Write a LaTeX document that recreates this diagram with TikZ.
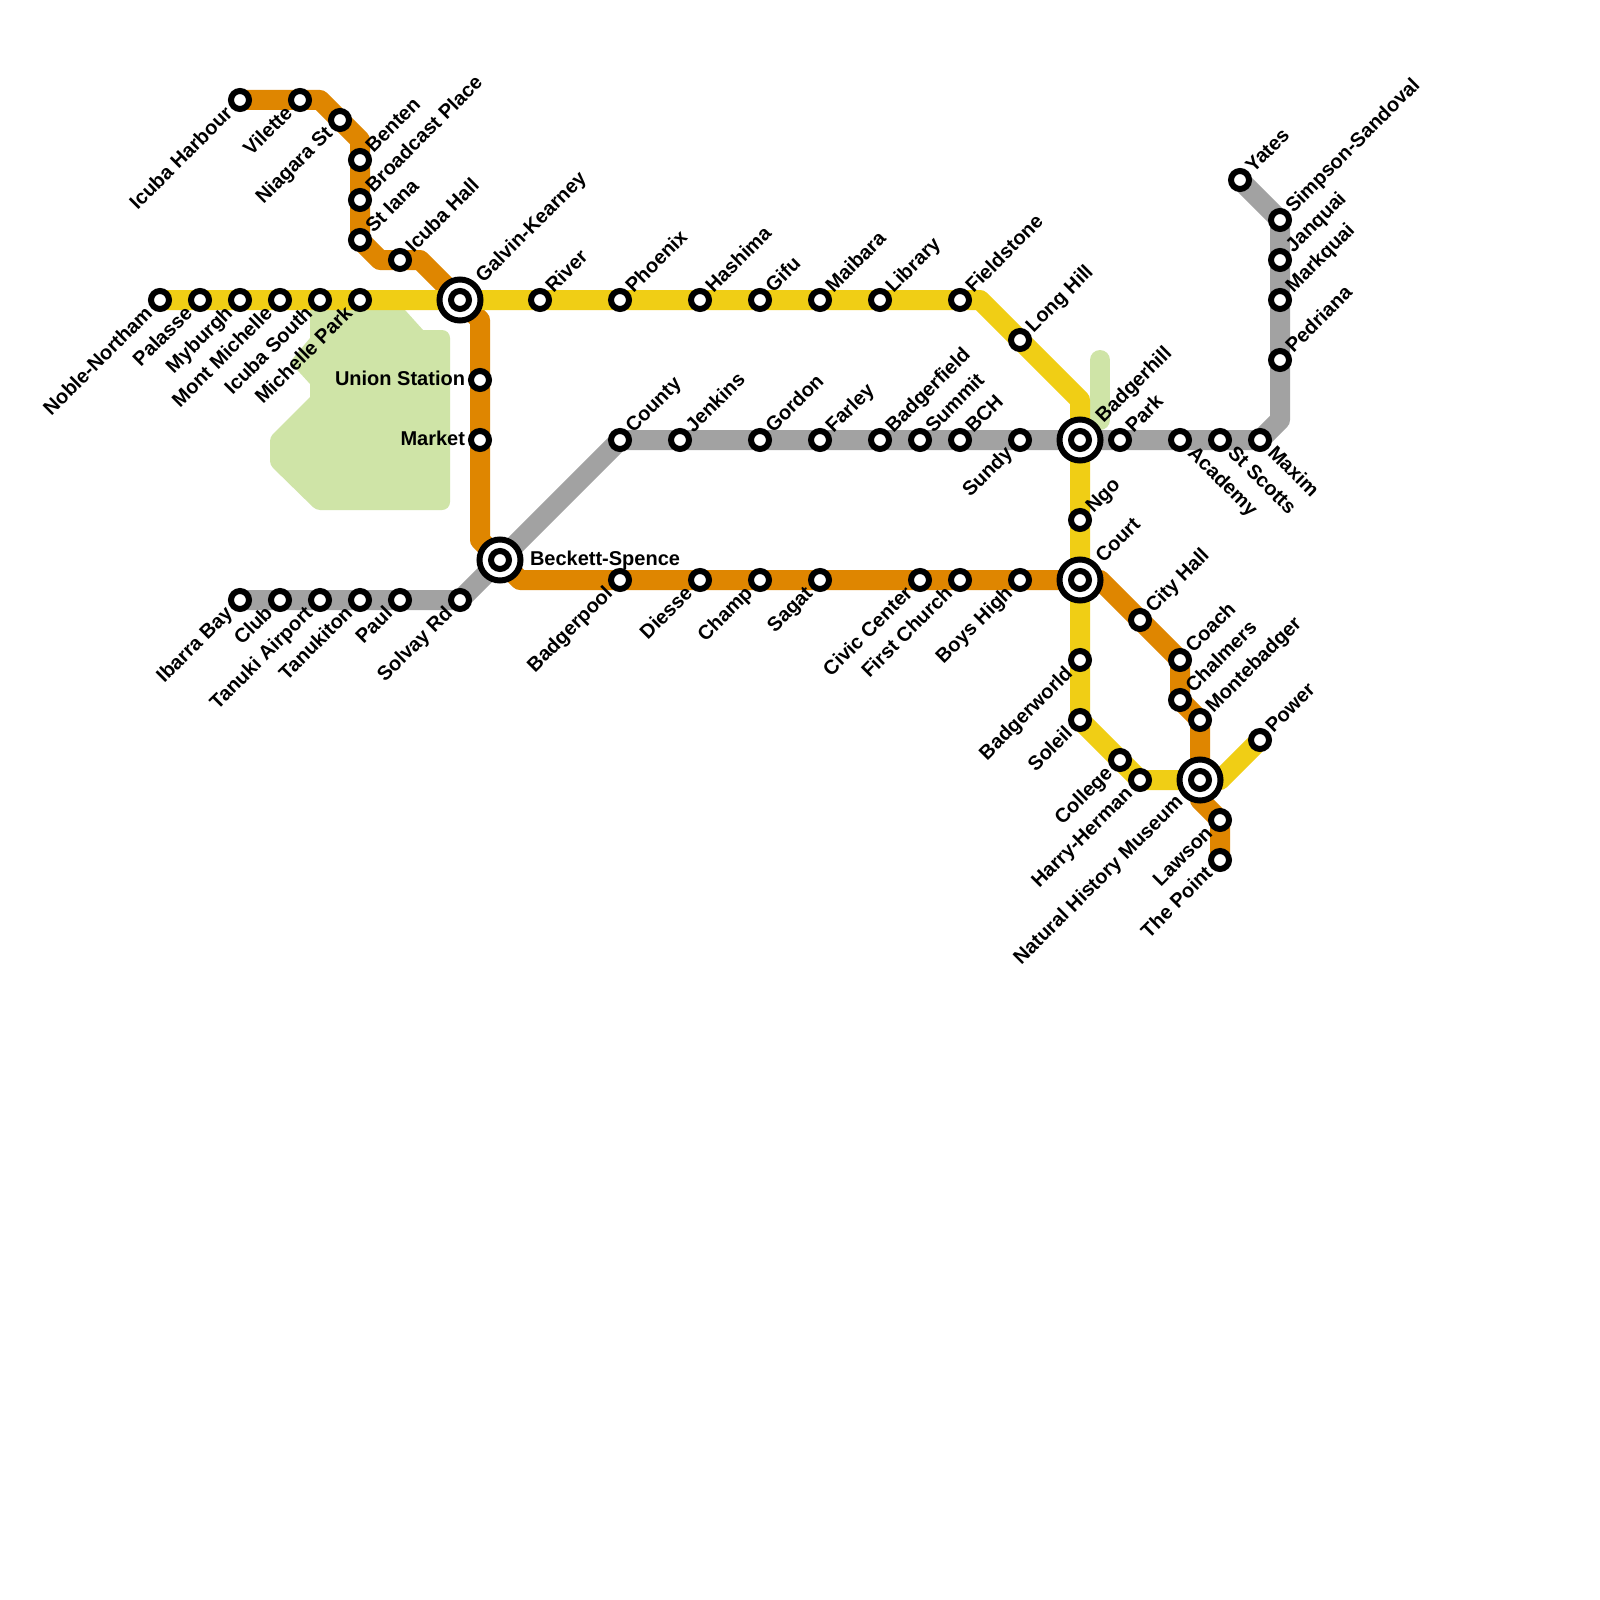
\documentclass[tikz,border=0pt]{standalone}
\usepackage{fontspec}
\setmainfont{Liberation Sans}
\definecolor{lineY}{HTML}{F0CE15}
\definecolor{lineO}{HTML}{DF8600}
\definecolor{lineG}{HTML}{A2A2A2}
\definecolor{parkG}{HTML}{CFE4A7}
\tikzset{
  railway/.style={line width=20pt,line join=round,line cap=round},
  stn/.style={circle,draw=black,fill=white,line width=6pt,minimum size=18pt,inner sep=0pt,outer sep=0pt},
  hubring/.style={circle,draw=black,fill=white,line width=6pt,minimum size=41pt,inner sep=0pt,outer sep=0pt},
  lbl/.style={inner sep=0pt,outer sep=0pt,text=black,text height=14.3pt,text depth=4.2pt,font=\fontsize{20}{21}\selectfont\bfseries},
}
% station node + label in one of four placements
\newcommand\stUR[2]{\node[stn] (#1-s) at (#1) {}; \node[lbl,anchor=west,rotate=45] (#1-l) at ([shift={(10,-10)}]#1) {#2};}
\newcommand\stDL[2]{\node[stn] (#1-s) at (#1) {}; \node[lbl,anchor=east,rotate=45] (#1-l) at ([shift={(-10,11)}]#1) {#2};}
\newcommand\stDR[2]{\node[stn] (#1-s) at (#1) {}; \node[lbl,anchor=west,rotate=-45] (#1-l) at ([shift={(10.5,10.5)}]#1) {#2};}
\newcommand\stL[2]{\node[stn] (#1-s) at (#1) {}; \node[lbl,anchor=east] (#1-l) at ([shift={(-15,0)}]#1) {#2};}
\newcommand\hubUR[2]{\node[hubring] (#1-h) at (#1) {}; \node[stn] (#1-s) at (#1) {}; \node[lbl,anchor=west,rotate=45] (#1-l) at ([shift={(20,-20)}]#1) {#2};}
\newcommand\hubDL[2]{\node[hubring] (#1-h) at (#1) {}; \node[stn] (#1-s) at (#1) {}; \node[lbl,anchor=east,rotate=45] (#1-l) at ([shift={(-19.5,19.5)}]#1) {#2};}
\newcommand\hubR[2]{\node[hubring] (#1-h) at (#1) {}; \node[stn] (#1-s) at (#1) {}; \node[lbl,anchor=west] (#1-l) at ([shift={(30,0)}]#1) {#2};}
\begin{document}
\begin{tikzpicture}[x=1pt,y=-1pt]
\useasboundingbox (0,0) rectangle (1600,1600);
\fill[white] (0,0) rectangle (1600,1600);
% positions
\foreach \n/\x/\y in {
 noble/160/300,palasse/200/300,myburgh/240/300,montm/280/300,icubas/320/300,michp/360/300,
 galvin/460/300,river/540/300,phoenix/620/300,hashima/700/300,gifu/760/300,maibara/820/300,
 library/880/300,fieldstone/960/300,longhill/1020/340,ngo/1080/520,court/1080/580,
 badgerworld/1080/660,soleil/1080/720,college/1120/760,harry/1140/780,nhm/1200/780,power/1260/740,
 icubah/240/100,vilette/300/100,niagara/340/120,benten/360/160,broadcast/360/200,stiana/360/240,
 icubahall/400/260,union/480/380,market/480/440,beckett/500/560,badgerpool/620/580,diesse/700/580,
 champ/760/580,sagat/820/580,civic/920/580,first/960/580,boys/1020/580,cityhall/1140/620,
 coach/1180/660,chalmers/1180/700,montebadger/1200/720,lawson/1220/820,thepoint/1220/860,
 ibarra/240/600,club/280/600,tanukia/320/600,tanukit/360/600,paul/400/600,solvay/460/600,
 county/620/440,jenkins/680/440,gordon/760/440,farley/820/440,badgerf/880/440,summit/920/440,
 bch/960/440,sundy/1020/440,badgerh/1080/440,park/1120/440,academy/1180/440,stscotts/1220/440,
 maxim/1260/440,pedriana/1280/360,markquai/1280/300,janquai/1280/260,simpson/1280/220,yates/1240/180,
 yA/980/300,yB/1080/400,yC/1220/780,
 oA/320/100,oB/360/140,oC/380/260,oD/420/260,oE/480/320,oF/480/540,oG/520/580,oH/1100/580,oI/1200/800,oJ/1220/820,
 gA/1280/420}
 {\coordinate (\n) at (\x,\y);}
% park
\fill[parkG] (310,300) -- (398,300) -- (405,310) -- (423,330)
  [rounded corners=8pt] -- (450,330) -- (450,510)
  [rounded corners=4pt] -- (316,510) -- (270,465) -- (270,437)
  [sharp corners] -- (310,397) -- (310,384)
  [rounded corners=4pt] -- (290,362) [sharp corners] -- (310,338) -- cycle;
\coordinate (pA) at (1100,360);
\coordinate (pB) at (1100,420);
\draw[railway,parkG] (pA) -- (pB);
% lines
\draw[railway,lineG] (ibarra) -- (solvay) -- (county) -- (maxim) -- (gA) -- (simpson) -- (yates);
\draw[railway,lineO] (icubah) -- (oA) -- (oB) -- (stiana) -- (oC) -- (oD) -- (galvin) -- (oE) -- (oF) -- (beckett) -- (oG) -- (oH) -- (coach) -- (chalmers) -- (montebadger) -- (oI) -- (oJ) -- (thepoint);
\draw[railway,lineY] (noble) -- (yA) -- (yB) -- (soleil) -- (harry) -- (yC) -- (power);
% stations
\stDL{noble}{Noble-Northam}
\stDL{palasse}{Palasse}
\stDL{myburgh}{Myburgh}
\stDL{montm}{Mont Michelle}
\stDL{icubas}{Icuba South}
\stDL{michp}{Michelle Park}
\hubUR{galvin}{Galvin-Kearney}
\stUR{river}{River}
\stUR{phoenix}{Phoenix}
\stUR{hashima}{Hashima}
\stUR{gifu}{Gifu}
\stUR{maibara}{Maibara}
\stUR{library}{Library}
\stUR{fieldstone}{Fieldstone}
\stUR{longhill}{Long Hill}
\stUR{ngo}{Ngo}
\hubUR{court}{Court}
\stDL{badgerworld}{Badgerworld}
\stDL{soleil}{Soleil}
\stDL{college}{College}
\stDL{harry}{Harry-Herman}
\hubDL{nhm}{Natural History Museum}
\stUR{power}{Power}
\stDL{icubah}{Icuba Harbour}
\stDL{vilette}{Vilette}
\stDL{niagara}{Niagara St}
\stUR{benten}{Benten}
\stUR{broadcast}{Broadcast Place}
\stUR{stiana}{St Iana}
\stUR{icubahall}{Icuba Hall}
\stL{union}{Union Station}
\stL{market}{Market}
\hubR{beckett}{Beckett-Spence}
\stDL{badgerpool}{Badgerpool}
\stDL{diesse}{Diesse}
\stDL{champ}{Champ}
\stDL{sagat}{Sagat}
\stDL{civic}{Civic Center}
\stDL{first}{First Church}
\stDL{boys}{Boys High}
\stUR{cityhall}{City Hall}
\stUR{coach}{Coach}
\stUR{chalmers}{Chalmers}
\stUR{montebadger}{Montebadger}
\stDL{lawson}{Lawson}
\stDL{thepoint}{The Point}
\stDL{ibarra}{Ibarra Bay}
\stDL{club}{Club}
\stDL{tanukia}{Tanuki Airport}
\stDL{tanukit}{Tanukiton}
\stDL{paul}{Paul}
\stDL{solvay}{Solvay Rd}
\stUR{county}{County}
\stUR{jenkins}{Jenkins}
\stUR{gordon}{Gordon}
\stUR{farley}{Farley}
\stUR{badgerf}{Badgerfield}
\stUR{summit}{Summit}
\stUR{bch}{BCH}
\stDL{sundy}{Sundy}
\hubUR{badgerh}{Badgerhill}
\stUR{park}{Park}
\stDR{academy}{Academy}
\stDR{stscotts}{St Scotts}
\stDR{maxim}{Maxim}
\stUR{pedriana}{Pedriana}
\stUR{markquai}{Markquai}
\stUR{janquai}{Janquai}
\stUR{simpson}{Simpson-Sandoval}
\stUR{yates}{Yates}
\end{tikzpicture}
\end{document}
